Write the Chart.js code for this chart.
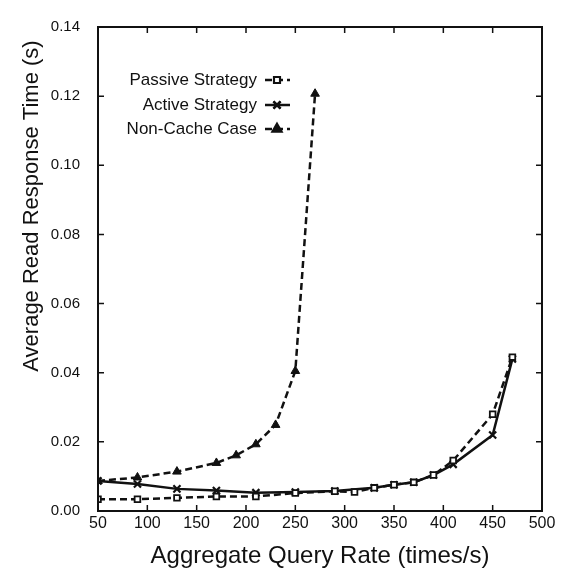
<!DOCTYPE html>
<html>
<head>
<meta charset="utf-8">
<script src="https://cdn.jsdelivr.net/npm/chart.js@4/dist/chart.umd.min.js"></script>
<style>
  html, body { margin: 0; padding: 0; background: #fff; }
  #plot { display: block; }
</style>
</head>
<body>
<canvas id="plot" width="566" height="575"></canvas>
<script>

// query rate (times/s) vs average read response time (s)
const passiveRate = [50, 90, 130, 170, 210, 250, 290, 310, 330, 350, 370, 390, 410, 450, 470];
const passiveTime = [0.0034, 0.0034, 0.0038, 0.0042, 0.0042, 0.0052, 0.0057, 0.0055, 0.0067, 0.0076, 0.0083, 0.0104, 0.0146, 0.028, 0.0445];

const activeRate = [50, 90, 130, 170, 210, 250, 290, 330, 350, 370, 390, 410, 450, 470];
const activeTime = [0.0087, 0.0078, 0.0064, 0.0059, 0.0053, 0.0055, 0.0058, 0.0067, 0.0076, 0.0083, 0.0104, 0.0135, 0.022, 0.044];

const nonCacheRate = [50, 90, 130, 170, 190, 210, 230, 250, 270];
const nonCacheTime = [0.0087, 0.0097, 0.0114, 0.0139, 0.0161, 0.0193, 0.0249, 0.0405, 0.1207];

const seriesNames = ['Passive Strategy', 'Active Strategy', 'Non-Cache Case'];

const xTicks = [50, 100, 150, 200, 250, 300, 350, 400, 450, 500];
const yTicks = [0, 0.02, 0.04, 0.06, 0.08, 0.10, 0.12, 0.14];

const FONT = "'Liberation Sans', Arial, Helvetica, sans-serif";
const INK = '#111';

function toPoints(xs, ys) {
    return xs.map((x, i) => ({x: x, y: ys[i]}));
}

// box round the plot with small inward ticks on all four sides
const framePlugin = {
    id: 'frame',
    afterDatasetsDraw(chart) {
        const {ctx, chartArea: a, scales} = chart;
        ctx.save();
        ctx.strokeStyle = INK;
        ctx.lineWidth = 2;
        ctx.strokeRect(a.left, a.top, a.right - a.left, a.bottom - a.top);
        ctx.lineWidth = 1.5;
        ctx.beginPath();
        xTicks.forEach(v => {
            const px = scales.x.getPixelForValue(v);
            ctx.moveTo(px, a.bottom); ctx.lineTo(px, a.bottom - 6);
            ctx.moveTo(px, a.top); ctx.lineTo(px, a.top + 6);
        });
        yTicks.forEach(v => {
            const py = scales.y.getPixelForValue(v);
            ctx.moveTo(a.left, py); ctx.lineTo(a.left + 6, py);
            ctx.moveTo(a.right, py); ctx.lineTo(a.right - 6, py);
        });
        ctx.stroke();
        ctx.restore();
    }
};

// y title sits a bit above the middle of the axis
const yTitlePlugin = {
    id: 'yTitle',
    afterDraw(chart) {
        const ctx = chart.ctx;
        ctx.save();
        ctx.translate(32, 206);
        ctx.rotate(-Math.PI / 2);
        ctx.font = '22px ' + FONT;
        ctx.fillStyle = INK;
        ctx.textAlign = 'center';
        ctx.textBaseline = 'middle';
        ctx.fillText('Average Read Response Time (s)', 0, 0);
        ctx.restore();
    }
};

// legend: label on the left, line sample with marker on the right
const keyPlugin = {
    id: 'key',
    afterDraw(chart) {
        const ctx = chart.ctx;
        const rows = [80, 105, 129];
        ctx.save();
        chart.data.datasets.forEach((ds, i) => {
            const y = rows[i];
            ctx.font = '17px ' + FONT;
            ctx.fillStyle = INK;
            ctx.textAlign = 'right';
            ctx.textBaseline = 'middle';
            ctx.fillText(ds.label, 257, y);

            ctx.strokeStyle = INK;
            ctx.lineWidth = ds.borderWidth;
            ctx.setLineDash(ds.borderDash || []);
            ctx.beginPath();
            ctx.moveTo(265, y);
            ctx.lineTo(290, y);
            ctx.stroke();
            ctx.setLineDash([]);
            Chart.helpers.drawPoint(ctx, {
                pointStyle: ds.pointStyle,
                radius: ds.pointRadius,
                borderWidth: ds.pointBorderWidth || 1.5
            }, 277, y);
            ctx.fillStyle = ds.pointBackgroundColor;
            ctx.lineWidth = ds.pointBorderWidth;
            ctx.fill();
            ctx.stroke();
        });
        ctx.restore();
    }
};

new Chart(document.getElementById('plot'), {
    type: 'scatter',
    data: {
        datasets: [
            {
                label: seriesNames[0],
                data: toPoints(passiveRate, passiveTime),
                showLine: true,
                borderColor: INK,
                borderWidth: 2.5,
                borderDash: [7, 4],
                pointStyle: 'rect',
                pointRadius: 4,
                pointBorderWidth: 1.8,
                pointBorderColor: INK,
                pointBackgroundColor: '#fff'
            },
            {
                label: seriesNames[1],
                data: toPoints(activeRate, activeTime),
                showLine: true,
                borderColor: INK,
                borderWidth: 2.5,
                pointStyle: 'crossRot',
                pointRadius: 5,
                pointBorderWidth: 2.2,
                pointBorderColor: INK,
                pointBackgroundColor: INK
            },
            {
                label: seriesNames[2],
                data: toPoints(nonCacheRate, nonCacheTime),
                showLine: true,
                borderColor: INK,
                borderWidth: 2.5,
                borderDash: [7, 4],
                pointStyle: 'triangle',
                pointRadius: 5,
                pointBorderWidth: 1,
                pointBorderColor: INK,
                pointBackgroundColor: INK
            }
        ]
    },
    options: {
        responsive: false,
        animation: false,
        events: [],
        layout: { padding: { top: 15, right: 24, left: 0, bottom: 0 } },
        plugins: {
            legend: { display: false },
            tooltip: { enabled: false }
        },
        scales: {
            x: {
                type: 'linear',
                min: 50,
                max: 500,
                afterFit(scale) { scale.height = 64; },
                afterBuildTicks(scale) { scale.ticks = xTicks.map(v => ({value: v})); },
                grid: { display: false, drawTicks: false },
                border: { display: false },
                ticks: {
                    padding: 3,
                    color: INK,
                    font: { family: FONT, size: 16 },
                    maxRotation: 0
                },
                title: {
                    display: true,
                    text: 'Aggregate Query Rate (times/s)',
                    color: INK,
                    font: { family: FONT, size: 24 },
                    padding: { top: 0, bottom: 4 }
                }
            },
            y: {
                type: 'linear',
                min: 0,
                max: 0.14,
                afterFit(scale) { scale.width = 98; },
                afterBuildTicks(scale) { scale.ticks = yTicks.map(v => ({value: v})); },
                grid: { display: false, drawTicks: false },
                border: { display: false },
                ticks: {
                    padding: 18,
                    color: INK,
                    font: { family: FONT, size: 15 },
                    callback: v => v.toFixed(2)
                }
            }
        }
    },
    plugins: [framePlugin, yTitlePlugin, keyPlugin]
});
</script>
</body>
</html>
